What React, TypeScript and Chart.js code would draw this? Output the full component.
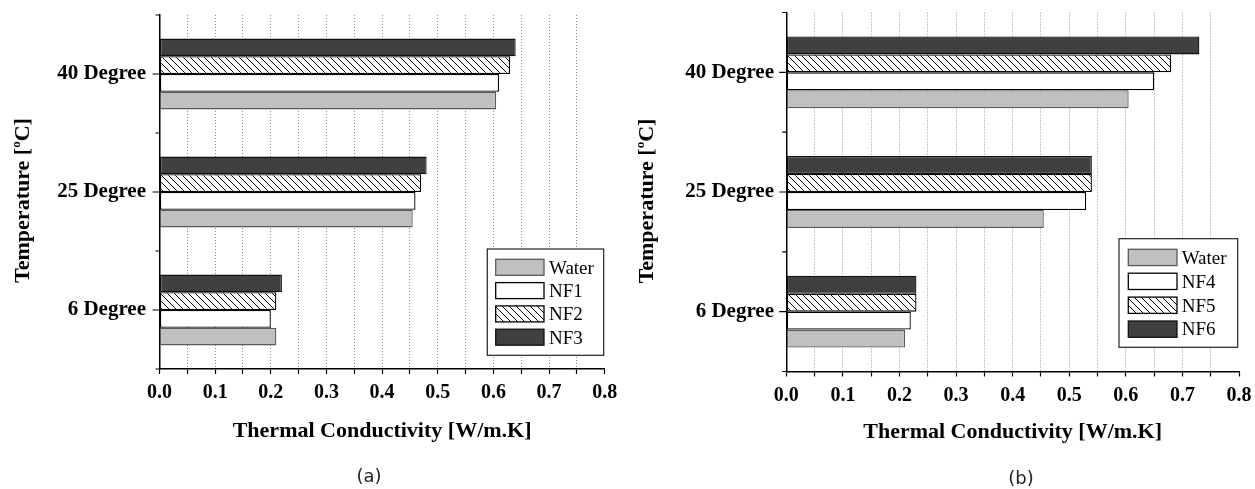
import React, { useEffect, useRef } from 'react';
import { Chart, registerables } from 'chart.js';

Chart.register(...registerables);

// ---------- data ----------
const categories = ['40 Degree', '25 Degree', '6 Degree'];
const xTickLabels = ['0.0', '0.1', '0.2', '0.3', '0.4', '0.5', '0.6', '0.7', '0.8'];
const xMin = 0;
const xMax = 0.8;
const xStep = 0.05;

const seriesNamesA = ['Water', 'NF1', 'NF2', 'NF3'];
const waterA = [0.605, 0.455, 0.21];
const nf1 = [0.61, 0.46, 0.2];
const nf2 = [0.63, 0.47, 0.21];
const nf3 = [0.64, 0.48, 0.22];

const seriesNamesB = ['Water', 'NF4', 'NF5', 'NF6'];
const waterB = [0.605, 0.455, 0.21];
const nf4 = [0.65, 0.53, 0.22];
const nf5 = [0.68, 0.54, 0.23];
const nf6 = [0.73, 0.54, 0.23];

const yTitleMain = 'Temperature [';
const yTitleSup = 'o';
const yTitleEnd = 'C]';
const xTitle = 'Thermal Conductivity [W/m.K]';

// ---------- styles / layout ----------
const SERIF = '"Liberation Serif", serif';
const SANS = '"DejaVu Sans", sans-serif';
const H = 489;

const fillKinds = ['#c0c0c0', '#ffffff', 'HATCH', '#404040'];
const borderColors = ['#5a5a5a', '#000000', '#000000', '#111111'];

const layoutA = {
  canvasLeft: 0, width: 620,
  left: 159.5, right: 604.7, top: 15, bottom: 369,
  yTickPad: 13.5,
  yTitleX: 29, yTitleY: 200.5,
  xTitleY: 436.7,
  sub: '(a)', subX: 369, subY: 477.5,
  legend: { x: 487.3, y: 249, w: 116.4, h: 106.3, sx: 495.7, sw: 48.3, sy: 259.3, sh: 16, pitch: 23.3, tx: 549 },
};
const layoutB = {
  canvasLeft: 620, width: 635,
  left: 166.3, right: 619, top: 12.5, bottom: 371.5,
  yTickPad: 12.3,
  yTitleX: 33, yTitleY: 201,
  xTitleY: 438,
  sub: '(b)', subX: 401, subY: 479,
  legend: { x: 499, y: 238.7, w: 118.7, h: 108.6, sx: 508.3, sw: 48.7, sy: 249.3, sh: 16.3, pitch: 23.9, tx: 561.7 },
};

function makeHatch(): CanvasPattern | string {
  const c = document.createElement('canvas');
  c.width = 7;
  c.height = 7;
  const g = c.getContext('2d');
  if (!g) return '#ffffff';
  g.fillStyle = '#ffffff';
  g.fillRect(0, 0, 7, 7);
  g.strokeStyle = '#000000';
  g.lineWidth = 1;
  g.beginPath();
  g.moveTo(-1, -1);
  g.lineTo(8, 8);
  g.moveTo(-1, 6);
  g.lineTo(1, 8);
  g.moveTo(6, -1);
  g.lineTo(8, 1);
  g.stroke();
  return g.createPattern(c, 'repeat') || '#ffffff';
}

function ChartPanel({ L, names, values }: { L: any; names: string[]; values: number[][] }) {
  const ref = useRef<HTMLCanvasElement>(null);

  useEffect(() => {
    const canvas = ref.current;
    if (!canvas) return;
    const hatch = makeHatch();
    const fills = fillKinds.map((f) => (f === 'HATCH' ? hatch : f));
    const order = [3, 2, 1, 0];
    const datasets = order.map((k) => ({
      label: names[k],
      data: values[k],
      backgroundColor: fills[k] as any,
      borderColor: borderColors[k],
      borderWidth: 1.3,
      borderSkipped: false as any,
      categoryPercentage: 0.6,
      barPercentage: 1,
    }));

    const decor = {
      id: 'decor',
      afterDraw(chart: any) {
        const ctx = chart.ctx as CanvasRenderingContext2D;
        const area = chart.chartArea;
        const ys = chart.scales.y;
        ctx.save();
        // y-axis tick marks (major at categories, minor at boundaries)
        ctx.strokeStyle = '#000';
        ctx.lineWidth = 1.2;
        const n = categories.length;
        const p0 = ys.getPixelForValue(0);
        const p1 = ys.getPixelForValue(1);
        const step = p1 - p0;
        ctx.beginPath();
        for (let i = 0; i < n; i++) {
          const c = ys.getPixelForValue(i);
          ctx.moveTo(area.left - 7, c);
          ctx.lineTo(area.left, c);
        }
        for (let i = 0; i <= n; i++) {
          const b = p0 - step / 2 + i * step;
          ctx.moveTo(area.left - 4, b);
          ctx.lineTo(area.left, b);
        }
        ctx.stroke();

        // x title
        ctx.fillStyle = '#000';
        ctx.font = `bold 22px ${SERIF}`;
        ctx.textAlign = 'center';
        ctx.textBaseline = 'alphabetic';
        ctx.fillText(xTitle, (area.left + area.right) / 2, L.xTitleY);

        // y title with superscript
        ctx.save();
        ctx.translate(L.yTitleX, L.yTitleY);
        ctx.rotate(-Math.PI / 2);
        const big = `bold 22px ${SERIF}`;
        const small = `bold 13px ${SERIF}`;
        ctx.font = big;
        const w1 = ctx.measureText(yTitleMain).width;
        const w3 = ctx.measureText(yTitleEnd).width;
        ctx.font = small;
        const w2 = ctx.measureText(yTitleSup).width;
        let x = -(w1 + w2 + w3) / 2;
        ctx.textAlign = 'left';
        ctx.font = big;
        ctx.fillText(yTitleMain, x, 0);
        x += w1;
        ctx.font = small;
        ctx.fillText(yTitleSup, x, -9);
        x += w2;
        ctx.font = big;
        ctx.fillText(yTitleEnd, x, 0);
        ctx.restore();

        // subtitle
        ctx.font = `18px ${SANS}`;
        ctx.fillStyle = '#222';
        ctx.textAlign = 'center';
        ctx.textBaseline = 'middle';
        ctx.fillText(L.sub, L.subX, L.subY);

        // legend
        const lg = L.legend;
        ctx.fillStyle = '#fff';
        ctx.fillRect(lg.x, lg.y, lg.w, lg.h);
        ctx.strokeStyle = '#222';
        ctx.lineWidth = 1.2;
        ctx.strokeRect(lg.x, lg.y, lg.w, lg.h);
        for (let k = 0; k < names.length; k++) {
          const y = lg.sy + k * lg.pitch;
          ctx.fillStyle = fills[k] as any;
          ctx.fillRect(lg.sx, y, lg.sw, lg.sh);
          ctx.strokeStyle = borderColors[k];
          ctx.lineWidth = 1.3;
          ctx.strokeRect(lg.sx, y, lg.sw, lg.sh);
          ctx.fillStyle = '#000';
          ctx.font = `normal 400 19px ${SERIF}`;
          ctx.textAlign = 'left';
          ctx.textBaseline = 'alphabetic';
          ctx.fillText(names[k], lg.tx, y + lg.sh / 2 + 6.3);
        }
        ctx.restore();
      },
    };

    const chart = new Chart(canvas, {
      type: 'bar',
      data: { labels: categories, datasets },
      options: {
        indexAxis: 'y',
        responsive: false,
        animation: false,
        events: [],
        layout: { padding: { left: 0, top: L.top, right: L.width - L.right, bottom: 0 } },
        plugins: { legend: { display: false }, tooltip: { enabled: false } },
        scales: {
          x: {
            type: 'linear',
            position: 'bottom',
            min: xMin,
            max: xMax,
            afterFit: (s: any) => {
              s.height = H - L.bottom;
              s.paddingLeft = 0;
              s.paddingRight = 0;
            },
            ticks: {
              stepSize: xStep,
              autoSkip: false,
              maxRotation: 0,
              minRotation: 0,
              padding: 7,
              color: '#000',
              font: { family: SERIF, size: 20, weight: 'bold' },
              callback: (v: any) => {
                const k = Math.round(Number(v) * 20);
                return k % 2 === 0 ? xTickLabels[k / 2] : '';
              },
            },
            grid: {
              color: (c: any) => {
                const v = c.tick ? c.tick.value : undefined;
                if (v === undefined) return '#8f8f8f';
                const k = Math.round(v * 20);
                if (k === 0 || k === 16) return 'rgba(0,0,0,0)';
                return '#8f8f8f';
              },
              lineWidth: 1,
              tickLength: 5,
              tickColor: '#000',
              tickWidth: 1.2,
              drawOnChartArea: true,
            },
            border: { display: true, color: '#000', width: 1.5, dash: [1, 2] },
          },
          y: {
            type: 'category',
            offset: true,
            afterFit: (s: any) => {
              s.width = L.left;
              s.paddingTop = 0;
              s.paddingBottom = 0;
            },
            ticks: {
              padding: L.yTickPad,
              color: '#000',
              font: { family: SERIF, size: 21, weight: 'bold' },
            },
            grid: { display: false, drawTicks: false },
            border: { display: true, color: '#000', width: 1.5 },
          },
        },
      } as any,
      plugins: [decor],
    });
    return () => chart.destroy();
  }, []);

  return (
    <canvas
      ref={ref}
      width={L.width}
      height={H}
      style={{ position: 'absolute', left: L.canvasLeft, top: 0, width: L.width, height: H, display: 'block' }}
    />
  );
}

export default function App() {
  return (
    <div style={{ position: 'absolute', left: 0, top: 0, width: 1255, height: H, background: '#fff' }}>
      <ChartPanel L={layoutA} names={seriesNamesA} values={[waterA, nf1, nf2, nf3]} />
      <ChartPanel L={layoutB} names={seriesNamesB} values={[waterB, nf4, nf5, nf6]} />
    </div>
  );
}
